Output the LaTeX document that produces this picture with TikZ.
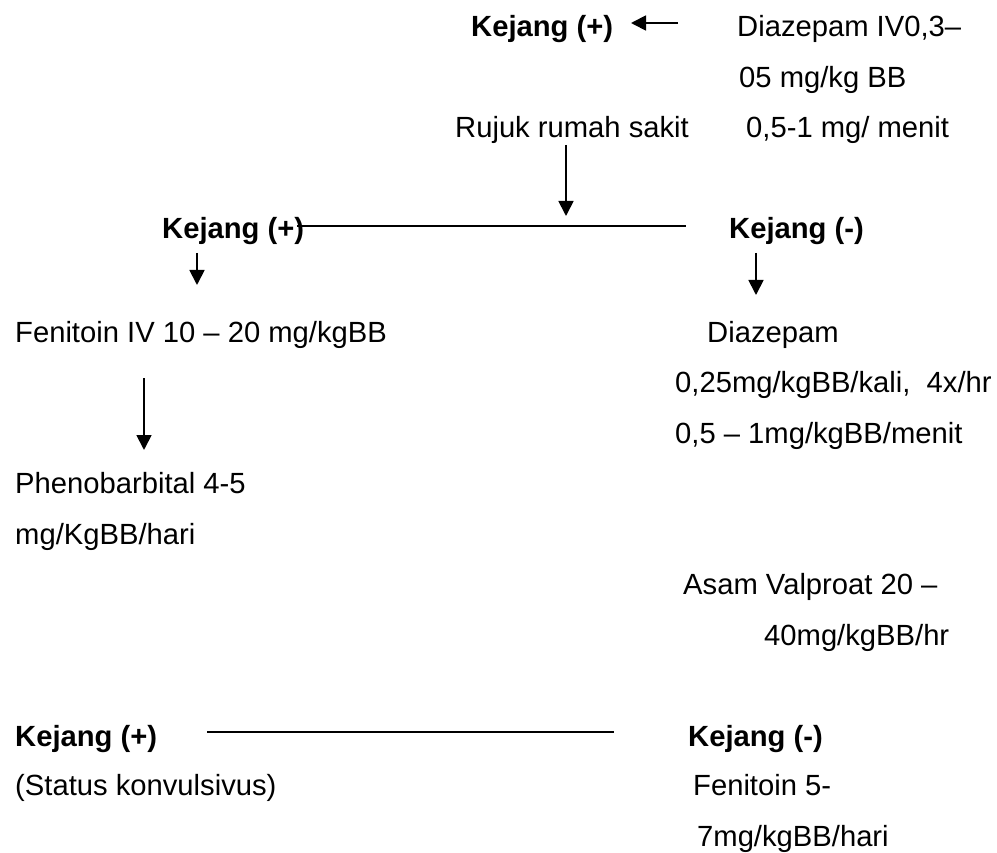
\documentclass[tikz,border=0pt]{standalone}
\usepackage{fontspec}
\setmainfont{Liberation Sans}
\usetikzlibrary{arrows.meta}
\begin{document}
\begin{tikzpicture}[x=1pt,y=-1pt,
  txt/.style={anchor=base west,inner sep=0pt,font=\fontsize{29.2}{35}\selectfont},
  bold/.style={txt,font=\fontsize{29.2}{35}\selectfont\bfseries},
  arr/.style={line width=1.8pt,-{Triangle[length=15pt,width=15pt]}},
  rule/.style={line width=2pt}]
\useasboundingbox (0,0) rectangle (997,853);

% first block: initial treatment
\node[bold] (k1)  at (471,37)  {Kejang (+)};
\node[txt]  (d1a) at (737,37)  {Diazepam IV0,3–};
\node[txt]  (d1b) at (739,87.5) {05 mg/kg BB};
\node[txt]  (d1c) at (746,138) {0,5-1 mg/ menit};
\node[txt]  (rs)  at (455,138) {Rujuk rumah sakit};

% split after referral
\node[bold] (k2p) at (162,239) {Kejang (+)};
\node[bold] (k2m) at (729,239) {Kejang (-)};

% left branch
\node[txt] (fen)  at (15,342) {Fenitoin IV 10 – 20 mg/kgBB};
\node[txt] (ph1)  at (15,493) {Phenobarbital 4-5};
\node[txt] (ph2)  at (15,544) {mg/KgBB/hari};

% right branch
\node[txt] (dz1) at (707,342) {Diazepam};
\node[txt] (dz2) at (675,392) {0,25mg/kgBB/kali,\ \ 4x/hr};
\node[txt] (dz3) at (675,443) {0,5 – 1mg/kgBB/menit};
\node[txt] (va1) at (683,594) {Asam Valproat 20 –};
\node[txt] (va2) at (764,645) {40mg/kgBB/hr};

% final outcome
\node[bold] (k3p) at (15,746)  {Kejang (+)};
\node[txt]  (st)  at (15,795)  {(Status konvulsivus)};
\node[bold] (k3m) at (688,746) {Kejang (-)};
\node[txt]  (fe1) at (693,795) {Fenitoin 5-};
\node[txt]  (fe2) at (697,846) {7mg/kgBB/hari};

% connector end points
\coordinate (a1s) at (678,23);
\coordinate (a1e) at (631,23);
\coordinate (a2s) at (566,145);
\coordinate (a2e) at (566,216);
\coordinate (h1s) at (297,226.5);
\coordinate (h1e) at (686,226.5);
\coordinate (a3s) at (197,253);
\coordinate (a3e) at (197,285);
\coordinate (a4s) at (756,253);
\coordinate (a4e) at (756,295);
\coordinate (a5s) at (144,378);
\coordinate (a5e) at (144,450);
\coordinate (h2s) at (207,732);
\coordinate (h2e) at (614,732);

% connectors
\draw[arr] (a1s) -- (a1e);
\draw[arr] (a2s) -- (a2e);
\draw[rule] (h1s) -- (h1e);
\draw[arr] (a3s) -- (a3e);
\draw[arr] (a4s) -- (a4e);
\draw[arr] (a5s) -- (a5e);
\draw[rule] (h2s) -- (h2e);
\end{tikzpicture}
\end{document}
